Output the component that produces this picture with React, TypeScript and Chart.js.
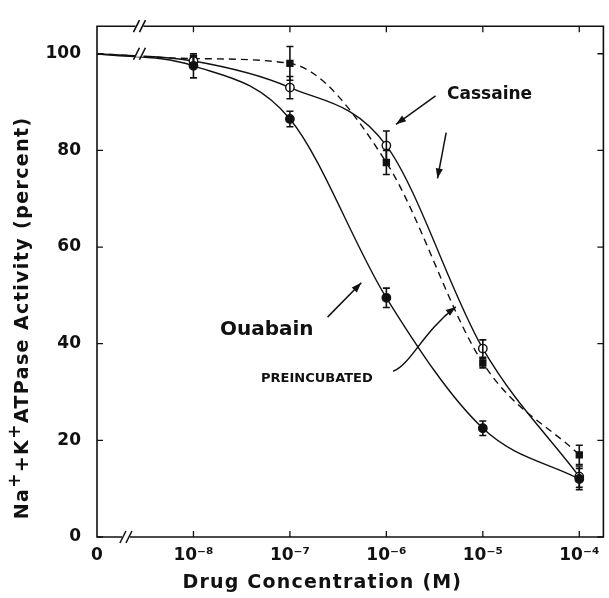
import React, { useEffect, useRef } from "react";
import { Chart, registerables } from "chart.js";

Chart.register(...registerables);

// x positions are log10 of concentration; "0" sits one decade left of 1e-8 behind an axis break
const xPositions = [-9, -8, -7, -6, -5, -4];
const xTickLabels = ["0", "10⁻⁸", "10⁻⁷", "10⁻⁶", "10⁻⁵", "10⁻⁴"];
const yTickValues = [0, 20, 40, 60, 80, 100];

const ouabain = [100, 97.5, 86.5, 49.5, 22.5, 12];
const ouabainErr = [0, 2.5, 1.6, 2, 1.5, 2.2];
const cassaine = [100, 98.5, 93, 81, 39, 12.5];
const cassaineErr = [0, 1, 2.3, 3, 1.8, 2.2];
const preincubated = [100, 99, 98, 77.5, 36, 17];
const preincubatedErr = [0, 1, 3.5, 2.5, 1, 2];

const xTitle = "Drug Concentration (M)";
const yTitleParts = [
  { t: "Na", sup: false },
  { t: "+", sup: true },
  { t: "+", sup: false },
  { t: "K", sup: false },
  { t: "+", sup: true },
  { t: "ATPase Activity (percent)", sup: false },
];

// annotation anchors, in data units (x: log10 M, y: percent)
const labelTexts = [
  { text: "Cassaine", x: -4.93, y: 91.5, size: 17 },
  { text: "Ouabain", x: -7.24, y: 42.9, size: 20 },
  { text: "PREINCUBATED", x: -6.72, y: 32.7, size: 13 },
];
const straightArrows = [
  { x1: -5.49, y1: 91.3, x2: -5.9, y2: 85.4 },
  { x1: -5.38, y1: 83.7, x2: -5.47, y2: 74.2 },
  { x1: -6.61, y1: 45.5, x2: -6.26, y2: 52.6 },
];
const curvedArrows = [
  { x1: -5.93, y1: 34.3, c1x: -5.75, c1y: 35.6, c2x: -5.62, c2y: 42.5, x2: -5.28, y2: 47.6 },
];
const breakTopX = -8.56;
const breakBottomX = -8.7;

const INK = "#111";
const FONT = "DejaVu Sans";

function head(ctx: CanvasRenderingContext2D, x: number, y: number, ang: number) {
  const L = 10, W = 3.6;
  ctx.beginPath();
  ctx.moveTo(x, y);
  ctx.lineTo(x - L * Math.cos(ang) + W * Math.sin(ang), y - L * Math.sin(ang) - W * Math.cos(ang));
  ctx.lineTo(x - L * Math.cos(ang) - W * Math.sin(ang), y - L * Math.sin(ang) + W * Math.cos(ang));
  ctx.closePath();
  ctx.fill();
}

function breakMark(ctx: CanvasRenderingContext2D, x: number, y: number) {
  ctx.save();
  ctx.fillStyle = "#fff";
  ctx.fillRect(x - 4, y - 3, 8, 6);
  ctx.strokeStyle = INK;
  ctx.lineWidth = 1.6;
  for (const d of [-3, 3]) {
    ctx.beginPath();
    ctx.moveTo(x + d - 3, y + 6);
    ctx.lineTo(x + d + 3, y - 6);
    ctx.stroke();
  }
  ctx.restore();
}

const decor = {
  id: "decor",
  afterDatasetsDraw(chart: any) {
    const { ctx, chartArea: a, scales } = chart;
    const xs = scales.x, ys = scales.y;
    ctx.save();
    ctx.strokeStyle = INK;
    ctx.fillStyle = INK;
    // frame
    ctx.lineWidth = 1.6;
    ctx.beginPath();
    ctx.moveTo(a.left, a.top);
    ctx.lineTo(a.right, a.top);
    ctx.lineTo(a.right, a.bottom);
    ctx.lineTo(a.left, a.bottom);
    ctx.closePath();
    ctx.stroke();
    // inward ticks
    ctx.lineWidth = 1.3;
    for (const v of yTickValues) {
      const py = ys.getPixelForValue(v);
      ctx.beginPath();
      ctx.moveTo(a.left, py); ctx.lineTo(a.left + 6, py);
      ctx.moveTo(a.right, py); ctx.lineTo(a.right - 6, py);
      ctx.stroke();
    }
    for (const v of xPositions.slice(1)) {
      const px = xs.getPixelForValue(v);
      ctx.beginPath();
      ctx.moveTo(px, a.bottom); ctx.lineTo(px, a.bottom - 6);
      ctx.moveTo(px, a.top); ctx.lineTo(px, a.top + 6);
      ctx.stroke();
    }
    // error bars
    chart.data.datasets.forEach((ds: any) => {
      ds.err.forEach((e: number, i: number) => {
        if (!e) return;
        const px = xs.getPixelForValue(xPositions[i]);
        const v = ds.data[i].y;
        const t = ys.getPixelForValue(v + e), b = ys.getPixelForValue(v - e);
        ctx.lineWidth = 1.6;
        ctx.beginPath();
        ctx.moveTo(px, t); ctx.lineTo(px, b);
        ctx.moveTo(px - 3.5, t); ctx.lineTo(px + 3.5, t);
        ctx.moveTo(px - 3.5, b); ctx.lineTo(px + 3.5, b);
        ctx.stroke();
      });
    });
    // breaks
    const bt = xs.getPixelForValue(breakTopX);
    breakMark(ctx, bt, a.top);
    breakMark(ctx, bt, ys.getPixelForValue(100));
    breakMark(ctx, xs.getPixelForValue(breakBottomX), a.bottom);
    // annotation texts
    ctx.textAlign = "center";
    ctx.textBaseline = "middle";
    for (const t of labelTexts) {
      ctx.font = `bold ${t.size}px "${FONT}"`;
      ctx.fillText(t.text, xs.getPixelForValue(t.x), ys.getPixelForValue(t.y));
    }
    // arrows
    ctx.lineWidth = 1.5;
    for (const r of straightArrows) {
      const x1 = xs.getPixelForValue(r.x1), y1 = ys.getPixelForValue(r.y1);
      const x2 = xs.getPixelForValue(r.x2), y2 = ys.getPixelForValue(r.y2);
      ctx.beginPath(); ctx.moveTo(x1, y1); ctx.lineTo(x2, y2); ctx.stroke();
      head(ctx, x2, y2, Math.atan2(y2 - y1, x2 - x1));
    }
    for (const r of curvedArrows) {
      const x1 = xs.getPixelForValue(r.x1), y1 = ys.getPixelForValue(r.y1);
      const c1x = xs.getPixelForValue(r.c1x), c1y = ys.getPixelForValue(r.c1y);
      const c2x = xs.getPixelForValue(r.c2x), c2y = ys.getPixelForValue(r.c2y);
      const x2 = xs.getPixelForValue(r.x2), y2 = ys.getPixelForValue(r.y2);
      ctx.beginPath(); ctx.moveTo(x1, y1); ctx.bezierCurveTo(c1x, c1y, c2x, c2y, x2, y2); ctx.stroke();
      head(ctx, x2, y2, Math.atan2(y2 - c2y, x2 - c2x));
    }
    // x axis title
    (ctx as any).letterSpacing = "1.2px";
    ctx.font = `bold 19px "${FONT}"`;
    ctx.textAlign = "center";
    ctx.fillText(xTitle, a.left + (a.right - a.left) * 0.445, a.bottom + 46);
    // y axis title (rotated)
    const fontMain = `bold 19px "${FONT}"`;
    const fontSup = `bold 17px "${FONT}"`;
    (ctx as any).letterSpacing = "1.4px";
    const widths = yTitleParts.map((p) => {
      ctx.font = p.sup ? fontSup : fontMain;
      return ctx.measureText(p.t).width;
    });
    const total = widths.reduce((s, w) => s + w, 0);
    ctx.translate(22, a.top + (a.bottom - a.top) * 0.571);
    ctx.rotate(-Math.PI / 2);
    ctx.textAlign = "left";
    let cx = -total / 2;
    yTitleParts.forEach((p, i) => {
      ctx.font = p.sup ? fontSup : fontMain;
      ctx.fillText(p.t, cx, p.sup ? -6 : 1);
      cx += widths[i];
    });
    (ctx as any).letterSpacing = "0px";
    ctx.restore();
  },
};

function series(label: string, values: number[], err: number[], style: any, dashed: boolean, fill: string) {
  return {
    label,
    data: xPositions.map((x, i) => ({ x, y: values[i] })),
    err,
    borderColor: INK,
    borderWidth: 1.4,
    borderDash: dashed ? [7, 5] : [],
    cubicInterpolationMode: "monotone",
    pointRadius: xPositions.map((_, i) => (i === 0 ? 0 : 4.2)),
    pointStyle: style,
    pointBackgroundColor: fill,
    pointBorderColor: INK,
    pointBorderWidth: 1.4,
    fill: false,
  };
}

export default function App() {
  const ref = useRef<HTMLCanvasElement>(null);
  useEffect(() => {
    document.body.style.margin = "0";
    const chart = new Chart(ref.current!, {
      type: "line",
      data: {
        datasets: [
          series("Ouabain", ouabain, ouabainErr, "circle", false, INK),
          series("Cassaine", cassaine, cassaineErr, "circle", false, "#fff"),
          series("Preincubated", preincubated, preincubatedErr, "rect", true, INK),
        ] as any,
      },
      options: {
        animation: false,
        responsive: false,
        layout: { padding: { top: 17, right: 3, left: 0, bottom: 0 } },
        plugins: { legend: { display: false }, tooltip: { enabled: false } },
        scales: {
          x: {
            type: "linear",
            min: -9,
            max: -3.75,
            afterBuildTicks: (s: any) => {
              s.ticks = xPositions.map((v) => ({ value: v }));
            },
            afterFit: (s: any) => {
              s.height = 61;
            },
            ticks: {
              callback: (_v: any, i: number) => xTickLabels[i],
              font: { family: FONT, weight: "bold", size: 17 },
              color: INK,
              padding: 8,
              maxRotation: 0,
              autoSkip: false,
            },
            grid: { display: false, drawTicks: false },
            border: { display: false },
          },
          y: {
            min: 0,
            max: 105.7,
            afterBuildTicks: (s: any) => {
              s.ticks = yTickValues.map((v) => ({ value: v }));
            },
            afterFit: (s: any) => {
              s.width = 97;
            },
            ticks: {
              font: { family: FONT, weight: "bold", size: 17 },
              color: INK,
              padding: 16,
            },
            grid: { display: false, drawTicks: false },
            border: { display: false },
          },
        },
      } as any,
      plugins: [decor],
    });
    return () => chart.destroy();
  }, []);
  return <canvas ref={ref} width={609} height={598} style={{ display: "block" }} />;
}
